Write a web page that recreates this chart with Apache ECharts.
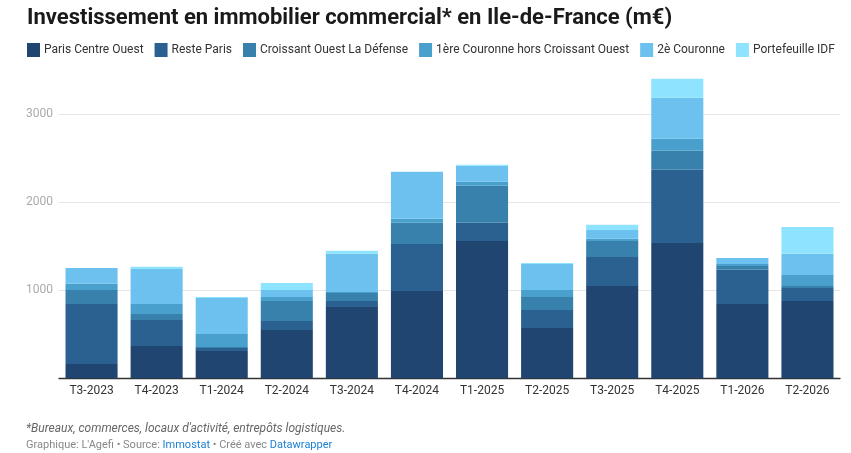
<!DOCTYPE html>
<html lang="fr">
<head>
<meta charset="utf-8">
<title>Investissement en immobilier commercial en Ile-de-France</title>
<script src="https://cdn.jsdelivr.net/npm/echarts@6/dist/echarts.min.js"></script>
<style>
  html, body { margin: 0; padding: 0; background: #fff; }
  #chart { width: 851px; height: 453px; }
</style>
</head>
<body>
<div id="chart"></div>
<script>
// Trimestres (axe X)
const quarters = ['T3-2023', 'T4-2023', 'T1-2024', 'T2-2024', 'T3-2024', 'T4-2024',
  'T1-2025', 'T2-2025', 'T3-2025', 'T4-2025', 'T1-2026', 'T2-2026'];

// Montants par zone, en m€
const parisCentreOuest = [162, 367, 310, 549, 810, 992, 1560, 572, 1049, 1537, 844, 878];
const resteParis       = [682, 296, 34, 102, 68, 534, 205, 204, 329, 830, 387, 148];
const croissantOuest   = [159, 68, 11, 227, 91, 239, 420, 148, 182, 216, 45, 23];
const premiereCouronne = [69, 113, 148, 46, 11, 45, 45, 79, 23, 136, 23, 125];
const deuxiemeCouronne = [181, 398, 409, 79, 433, 534, 182, 296, 102, 466, 68, 239];
const portefeuilleIdf  = [0, 23, 12, 80, 34, 0, 12, 11, 57, 216, 0, 306];

const yTicks = [0, 1000, 2000, 3000];

const FONT = 'Roboto, sans-serif';

const seriesDefs = [
  { name: 'Paris Centre Ouest', data: parisCentreOuest, color: '#1f4570' },
  { name: 'Reste Paris', data: resteParis, color: '#2b6190' },
  { name: 'Croissant Ouest La Défense', data: croissantOuest, color: '#3881ad' },
  { name: '1ère Couronne hors Croissant Ouest', data: premiereCouronne, color: '#4aa0cd' },
  { name: '2è Couronne', data: deuxiemeCouronne, color: '#6dc1ef' },
  { name: 'Portefeuille IDF', data: portefeuilleIdf, color: '#8ee3fe' },
];

const chart = echarts.init(document.getElementById('chart'), null, { renderer: 'canvas' });

chart.setOption({
  animation: false,
  textStyle: { fontFamily: FONT },
  title: [
    {
      text: 'Investissement en immobilier commercial* en Ile-de-France (m€)',
      left: 27, top: 7, padding: 0,
      textStyle: { fontFamily: FONT, fontSize: 22, fontWeight: 'bold', color: '#1a1a1a' },
    },
    {
      text: '*Bureaux, commerces, locaux d\'activité, entrepôts logistiques.',
      left: 26, top: 423, padding: 0,
      textStyle: { fontFamily: FONT, fontSize: 12, fontStyle: 'italic', fontWeight: 'normal', color: '#666' },
    },
    {
      text: 'Graphique: L\'Agefi • Source: {a|Immostat} • Créé avec {a|Datawrapper}',
      left: 26, top: 440, padding: 0,
      textStyle: {
        fontFamily: FONT, fontSize: 11, fontWeight: 'normal', color: '#888',
        rich: { a: { fontFamily: FONT, fontSize: 11, color: '#1d81d4' } },
      },
    },
  ],
  legend: {
    left: 27, top: 43, padding: 0,
    itemWidth: 13, itemHeight: 14, itemGap: 11,
    icon: 'rect',
    textStyle: { fontFamily: FONT, fontSize: 12, color: '#333', padding: [0, 0, 0, -1] },
  },
  grid: { left: 59, right: 11, top: 70, height: 308.3 },
  xAxis: {
    type: 'category',
    data: quarters,
    axisLine: { lineStyle: { color: '#333', width: 1.3 } },
    axisTick: { show: false },
    axisLabel: { color: '#333', fontSize: 12, margin: 7 },
  },
  yAxis: {
    type: 'value',
    min: yTicks[0], max: 3500, interval: 1000,
    axisLine: { show: false },
    axisTick: { show: false },
    axisLabel: {
      color: '#aaa', fontSize: 12, margin: 6, showMinLabel: false, showMaxLabel: false,
      formatter: (v) => (yTicks.includes(v) ? String(v) : ''),
    },
    splitLine: { showMinLine: false, showMaxLine: false, lineStyle: { color: '#e6e6e6', width: 1 } },
  },
  series: seriesDefs.map((s) => ({
    name: s.name,
    type: 'bar',
    stack: 'total',
    data: s.data,
    barCategoryGap: '20%',
    itemStyle: { color: s.color },
    emphasis: { disabled: true },
  })),
});
</script>
</body>
</html>
